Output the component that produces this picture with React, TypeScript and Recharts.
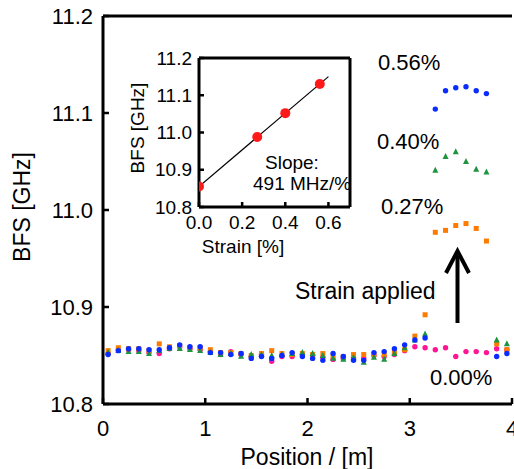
import React from "react";
import {
  ScatterChart,
  ComposedChart,
  Scatter,
  Line,
  XAxis,
  YAxis,
  ReferenceLine,
} from "recharts";

const FONT = "'Liberation Sans', Arial, sans-serif";

// positions along the fiber [m]
const positions = [
  0.05, 0.15, 0.25, 0.35, 0.45, 0.55, 0.65, 0.75, 0.85, 0.95,
  1.05, 1.15, 1.25, 1.35, 1.45, 1.55, 1.65, 1.75, 1.85, 1.95,
  2.05, 2.15, 2.25, 2.35, 2.45, 2.55, 2.65, 2.75, 2.85, 2.95,
  3.05, 3.15, 3.25, 3.35, 3.45, 3.55, 3.65, 3.75, 3.85, 3.95,
];

// BFS [GHz] for each strain level
const bfs000 = [
  10.852, 10.856, 10.856, 10.855, 10.853, 10.852, 10.857, 10.859, 10.857, 10.856,
  10.854, 10.851, 10.854, 10.851, 10.849, 10.851, 10.844, 10.849, 10.849, 10.851,
  10.85, 10.848, 10.846, 10.847, 10.848, 10.847, 10.85, 10.849, 10.851, 10.855,
  10.859, 10.858, 10.856, 10.858, 10.849, 10.854, 10.854, 10.853, 10.857, 10.856,
];
const bfs027 = [
  10.855, 10.858, 10.857, 10.857, 10.855, 10.862, 10.859, 10.86, 10.858, 10.858,
  10.856, 10.853, 10.853, 10.852, 10.85, 10.852, 10.855, 10.852, 10.851, 10.852,
  10.851, 10.852, 10.849, 10.849, 10.851, 10.851, 10.851, 10.851, 10.854, 10.856,
  10.87, 10.892, 10.977, 10.979, 10.984, 10.986, 10.981, 10.968, 10.862, 10.856,
];
const bfs040 = [
  10.853, 10.855, 10.854, 10.854, 10.852, 10.855, 10.857, 10.857, 10.856, 10.855,
  10.853, 10.851, 10.852, 10.849, 10.851, 10.851, 10.85, 10.851, 10.852, 10.853,
  10.852, 10.85, 10.847, 10.846, 10.848, 10.843, 10.848, 10.846, 10.852, 10.858,
  10.866, 10.872, 11.041, 11.055, 11.06, 11.05, 11.042, 11.039, 10.866, 10.862,
];
const bfs056 = [
  10.851, 10.855, 10.857, 10.857, 10.856, 10.856, 10.858, 10.861, 10.859, 10.859,
  10.853, 10.853, 10.851, 10.852, 10.847, 10.849, 10.847, 10.85, 10.853, 10.849,
  10.847, 10.845, 10.852, 10.849, 10.845, 10.845, 10.853, 10.854, 10.857, 10.861,
  10.866, 10.868, 11.104, 11.123, 11.126, 11.127, 11.123, 11.12, 10.849, 10.852,
];

const mainXTicks = [0, 1, 2, 3, 4];
const mainYTicks = [10.8, 10.9, 11.0, 11.1, 11.2];

// inset: BFS vs strain
const strainPct = [0, 0.27, 0.4, 0.56];
const strainBfs = [10.855, 10.988, 11.052, 11.13];
const fitX = [0, 0.6];
const fitY = [10.855, 11.15];
const insetXTicks = [0, 0.2, 0.4, 0.6];
const insetYTicks = [10.8, 10.9, 11.0, 11.1, 11.2];

const toPts = (ys: number[]) => positions.map((x, i) => ({ x, y: ys[i] }));

const circle = (color: string, r: number) => (p: any) =>
  <circle cx={p.cx} cy={p.cy} r={r} fill={color} />;
const square = (color: string, s: number) => (p: any) =>
  <rect x={p.cx - s / 2} y={p.cy - s / 2} width={s} height={s} fill={color} />;
const triangle = (color: string, s: number) => (p: any) =>
  <polygon
    points={`${p.cx},${p.cy - s * 0.6} ${p.cx - s / 2},${p.cy + s * 0.4} ${p.cx + s / 2},${p.cy + s * 0.4}`}
    fill={color}
  />;

const makeXTick = (fs: number, off: number, len: number, fmt: (v: number) => string) => (p: any) => (
  <g>
    <line x1={p.x} x2={p.x} y1={p.y} y2={p.y - len} stroke="#000" strokeWidth={2.5} />
    <text x={p.x} y={p.y + off} textAnchor="middle" dominantBaseline="central" fontSize={fs} fontFamily={FONT} fill="#000">
      {fmt(p.payload.value)}
    </text>
  </g>
);
const makeYTick = (fs: number, gap: number, len: number) => (p: any) => (
  <g>
    <line x1={p.x} x2={p.x + len} y1={p.y} y2={p.y} stroke="#000" strokeWidth={2.5} />
    <text x={p.x - gap} y={p.y} textAnchor="end" dominantBaseline="central" fontSize={fs} fontFamily={FONT} fill="#000">
      {Number(p.payload.value).toFixed(1)}
    </text>
  </g>
);

const axisStyle = { stroke: "#000", strokeWidth: 3 };

export default function App() {
  const fitData = fitX.map((x, i) => ({ x, fit: fitY[i] }));
  const insetPts = strainPct.map((x, i) => ({ x, y: strainBfs[i] }));

  return (
    <div style={{ position: "absolute", left: 0, top: 0, width: 514, height: 469, background: "#fff", fontFamily: FONT }}>
      <ScatterChart width={514} height={469} margin={{ top: 16, right: 2, left: 0, bottom: 0 }}>
        <XAxis
          type="number"
          dataKey="x"
          domain={[0, 4]}
          ticks={mainXTicks}
          tickSize={0}
          tickMargin={0}
          tickLine={false}
          height={65}
          axisLine={axisStyle}
          tick={makeXTick(22, 24, 6, (v) => String(v))}
          interval={0}
          allowDataOverflow
        />
        <YAxis
          type="number"
          dataKey="y"
          domain={[10.8, 11.2]}
          ticks={mainYTicks}
          tickSize={0}
          tickMargin={0}
          tickLine={false}
          width={103}
          axisLine={axisStyle}
          tick={makeYTick(22, 10, 6)}
          interval={0}
          allowDataOverflow
        />
        <ReferenceLine y={11.2} stroke="#000" strokeWidth={3} />
        <Scatter data={toPts(bfs000)} shape={circle("#ff1493", 2.7)} isAnimationActive={false} />
        <Scatter data={toPts(bfs027)} shape={square("#ff7b00", 5)} isAnimationActive={false} />
        <Scatter data={toPts(bfs040)} shape={triangle("#1e9440", 6)} isAnimationActive={false} />
        <Scatter data={toPts(bfs056)} shape={circle("#0a2cff", 2.7)} isAnimationActive={false} />
      </ScatterChart>

      <svg width={514} height={469} style={{ position: "absolute", left: 0, top: 0, pointerEvents: "none" }}>
        <g fontFamily={FONT} fontSize={22} fill="#000">
          <text x={22} y={207} fontSize={23} textAnchor="middle" dominantBaseline="central" transform="rotate(-90 22 207)">BFS [GHz]</text>
          <text x={307} y={457} fontSize={23} textAnchor="middle" dominantBaseline="central">Position / [m]</text>
          <text x={378} y={62} dominantBaseline="central">0.56%</text>
          <text x={377} y={141} dominantBaseline="central">0.40%</text>
          <text x={381} y={206} dominantBaseline="central">0.27%</text>
          <text x={295} y={291} fontSize={23} dominantBaseline="central">Strain applied</text>
          <text x={430} y={377} dominantBaseline="central">0.00%</text>
        </g>
        <line x1={457.5} y1={323} x2={457.5} y2={252} stroke="#000" strokeWidth={4} />
        <polyline points="446,273 457.5,251 469,273" fill="none" stroke="#000" strokeWidth={4} />
      </svg>

      <div style={{ position: "absolute", left: 120, top: 40, width: 240, height: 230 }}>
        <ComposedChart width={240} height={230} margin={{ top: 18, right: 10, left: 0, bottom: 0 }}>
          <XAxis
            type="number"
            dataKey="x"
            domain={[0, 0.7]}
            ticks={insetXTicks}
            tickSize={0}
            tickMargin={0}
            tickLine={false}
            height={63}
            axisLine={axisStyle}
            tick={makeXTick(19, 15, 5, (v) => v.toFixed(1))}
            interval={0}
            allowDataOverflow
          />
          <YAxis
            type="number"
            domain={[10.8, 11.2]}
            ticks={insetYTicks}
            tickSize={0}
            tickMargin={0}
            tickLine={false}
            width={79}
            axisLine={axisStyle}
            tick={makeYTick(19, 7, 5)}
            interval={0}
            allowDataOverflow
          />
          <ReferenceLine y={11.2} stroke="#000" strokeWidth={3} />
          <ReferenceLine x={0.7} stroke="#000" strokeWidth={3} />
          <Line data={fitData} dataKey="fit" stroke="#000" strokeWidth={1.2} dot={false} isAnimationActive={false} />
          <Scatter data={insetPts} dataKey="y" shape={circle("#ff1a1a", 5)} isAnimationActive={false} />
        </ComposedChart>
        <svg width={240} height={230} style={{ position: "absolute", left: 0, top: 0, pointerEvents: "none" }}>
          <g fontFamily={FONT} fontSize={19} fill="#000">
            <text x={17} y={88} textAnchor="middle" dominantBaseline="central" transform="rotate(-90 17 88)">BFS [GHz]</text>
            <text x={123} y={206} textAnchor="middle" dominantBaseline="central">Strain [%]</text>
            <text x={145} y={122} dominantBaseline="central">Slope:</text>
            <text x={133} y={143} dominantBaseline="central">491 MHz/%</text>
          </g>
        </svg>
      </div>
    </div>
  );
}
